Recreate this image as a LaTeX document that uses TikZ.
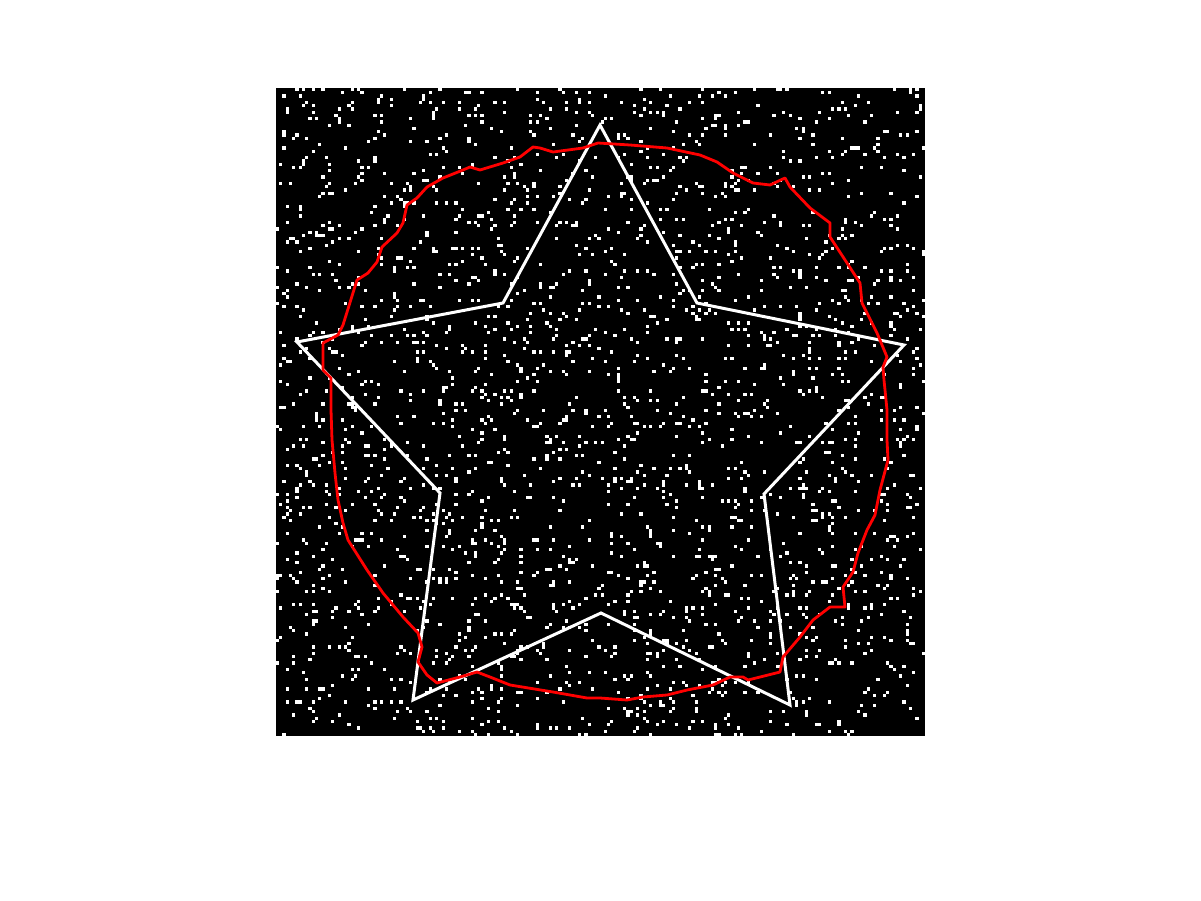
\documentclass[tikz,border=0pt]{standalone}
\begin{document}
\begin{tikzpicture}[x=1pt,y=-1pt,
  starline/.style={draw=white,line width=3pt,line join=miter},
  contour/.style={draw=red,line width=2.8pt,line join=round,line cap=round}]
\useasboundingbox (0,0) rectangle (1201,901);
\fill[white] (0,0) rectangle (1201,901);
\fill[black] (276,88) rectangle (925,736);
% noise
\pgfmathsetseed{4711}
\foreach \i in {1,...,2500}{
  \pgfmathrandominteger{\a}{0}{199}
  \pgfmathrandominteger{\b}{0}{199}
  \fill[white] ({276+\a*3.245},{88+\b*3.24}) rectangle +(3.245,3.24);
}
% star
\coordinate (O1) at (600,125);
\coordinate (I1) at (503,303);
\coordinate (O2) at (297,342);
\coordinate (I2) at (440,493);
\coordinate (O3) at (413,700);
\coordinate (I3) at (601,613);
\coordinate (O4) at (790,705);
\coordinate (I4) at (764,494);
\coordinate (O5) at (904,345);
\coordinate (I5) at (697,303);
\draw[starline] (O1) -- (I1) -- (O2) -- (I2) -- (O3) -- (I3) -- (O4) -- (I4) -- (O5) -- (I5) -- cycle;
% contour
\draw[contour] (598,143) -- (630,145) -- (667,148) -- (700,155) -- (717,162) -- (733,173) -- (753,183) -- (770,185) -- (785,178) -- (790,187) -- (810,208) -- (830,223) -- (830,237) -- (847,263) -- (860,283) -- (862,303) -- (877,333) -- (887,357) -- (883,367) -- (884,380) -- (887,410) -- (887,440) -- (888,460) -- (880,490) -- (875,515) -- (867,530) -- (858,553) -- (853,572) -- (843,587) -- (845,607) -- (830,607) -- (813,620) -- (800,637) -- (783,657) -- (780,672) -- (760,677) -- (748,680) -- (743,677) -- (730,677) -- (713,685) -- (687,690) -- (667,695) -- (643,697) -- (627,700) -- (600,698) -- (587,698) -- (553,692) -- (510,685) -- (490,677) -- (477,672) -- (460,677) -- (437,683) -- (427,675) -- (418,662) -- (422,647) -- (418,633) -- (403,617) -- (383,593) -- (367,570) -- (348,540) -- (343,523) -- (338,500) -- (335,473) -- (332,440) -- (331,410) -- (331,378) -- (323,370) -- (323,343) -- (338,335) -- (343,325) -- (357,280) -- (368,273) -- (377,262) -- (382,247) -- (397,233) -- (403,223) -- (407,205) -- (417,198) -- (427,187) -- (443,178) -- (463,170) -- (470,167) -- (480,170) -- (503,163) -- (520,157) -- (533,147) -- (540,148) -- (553,152) -- (583,148) -- cycle;
\end{tikzpicture}
\end{document}
